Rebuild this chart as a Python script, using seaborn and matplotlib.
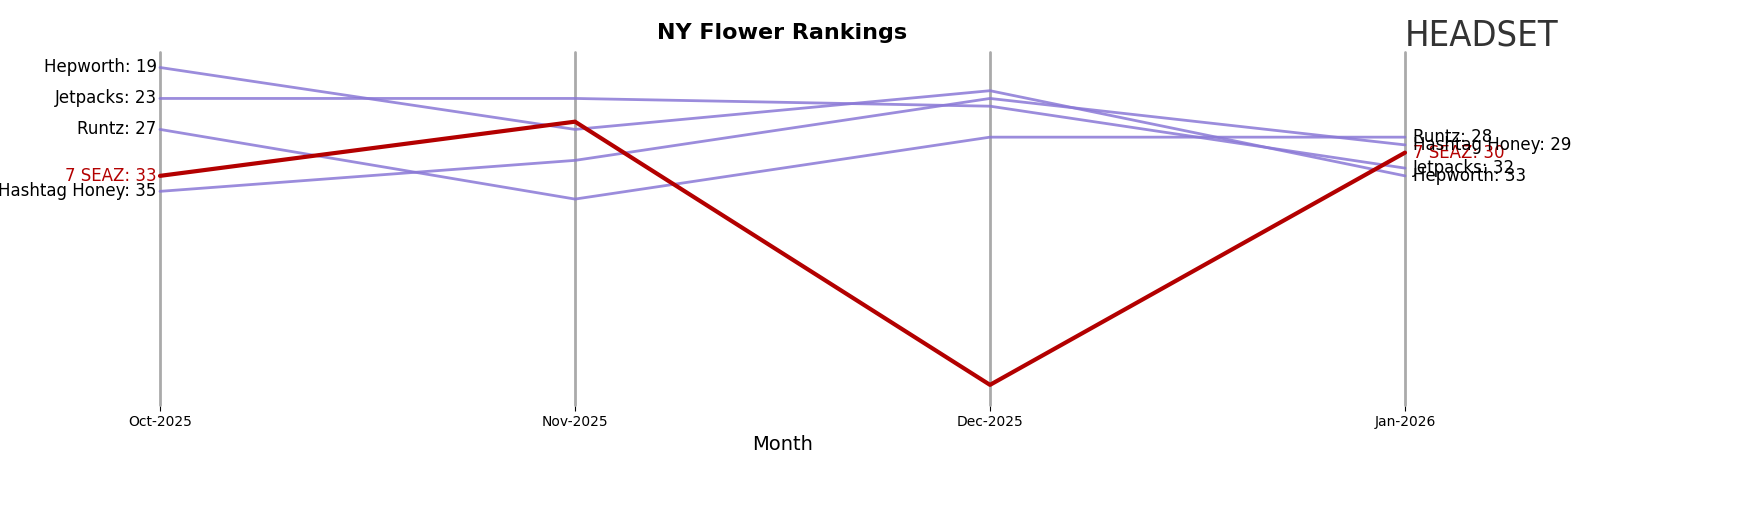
import matplotlib
matplotlib.use("Agg")
import matplotlib.pyplot as plt
import seaborn as sns
import pandas as pd

months = ["Oct-2025", "Nov-2025", "Dec-2025", "Jan-2026"]
brands = ["Hepworth", "Jetpacks", "Runtz", "7 SEAZ", "Hashtag Honey"]
hepworth = [19, 27, 22, 33]
jetpacks = [23, 23, 24, 32]
runtz = [27, 36, 28, 28]
seaz = [33, 26, 60, 30]
hashtag = [35, 31, 23, 29]
ranks = {"Hepworth": hepworth, "Jetpacks": jetpacks, "Runtz": runtz,
         "7 SEAZ": seaz, "Hashtag Honey": hashtag}

rows = []
for b in brands:
    for i, m in enumerate(months):
        rows.append({"Brand": b, "Month": m, "x": i, "Rank": ranks[b][i]})
df = pd.DataFrame(rows)

sns.set_style("white")
fig = plt.figure(figsize=(17.48, 5.07), dpi=100)
ax = fig.add_axes([160/1748, 1-405/507, (1405-160)/1748, (405-52)/507])

for b in brands:
    sub = df[df.Brand == b]
    if b == "7 SEAZ":
        sns.lineplot(data=sub, x="x", y="Rank", ax=ax, color="#b30000",
                     linewidth=3, zorder=3, legend=False)
    else:
        sns.lineplot(data=sub, x="x", y="Rank", ax=ax, color="#8a78d6", alpha=0.85,
                     linewidth=2, zorder=2, legend=False)
for line in ax.lines:
    line.set_clip_on(False)
for i in range(len(months)):
    ax.axvline(i, color="#aaaaaa", linewidth=2, zorder=1, clip_on=False)

ax.set_ylim(62.6, 17)
ax.set_xlim(0, 3)
ax.set_xticks(range(4))
ax.set_xticklabels(months, fontsize=10, color="black")
ax.set_yticks([])
ax.set_ylabel("")
ax.set_xlabel("Month", fontsize=14, color="black")
for s in ax.spines.values():
    s.set_visible(False)
ax.tick_params(axis="x", length=4, color="black", bottom=True)

for b in brands:
    c = "#b30000" if b == "7 SEAZ" else "black"
    ax.text(-0.008, ranks[b][0], f"{b}: {ranks[b][0]}", ha="right", va="center", fontsize=12, color=c)
    ax.text(3.02, ranks[b][3], f"{b}: {ranks[b][3]}", ha="left", va="center", fontsize=12, color=c)

fig.text(782/1748, 1-33/507, "NY Flower Rankings", ha="center", va="center", fontsize=16, fontweight="bold", color="black")
fig.text(1405/1748, 1-35/507, "HEADSET", ha="left", va="center", fontsize=26, color="#333333",
         fontstretch="condensed", family="Liberation Sans Narrow")
fig.savefig("out.png", dpi=100)
